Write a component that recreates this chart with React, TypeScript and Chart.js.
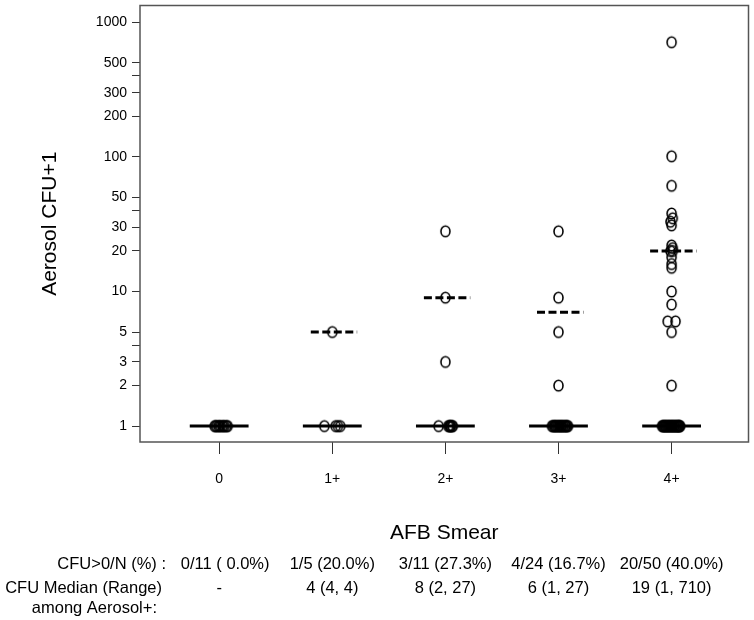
import React, { useEffect, useRef } from 'react';
import { Chart, registerables } from 'chart.js';

Chart.register(...registerables);

// ---- data (values are Aerosol CFU + 1) ----
const categories = ['0', '1+', '2+', '3+', '4+'];

const smear0Values = [1, 1, 1, 1, 1, 1, 1, 1, 1, 1, 1];
const smear0Jitter = [-0.04, -0.03, -0.02, -0.005, 0.005, 0.015, 0.03, 0.04, 0.05, 0.065, 0.075];

const smear1Values = [1, 1, 1, 1, 5];
const smear1Jitter = [-0.07, 0.03, 0.05, 0.07, 0];

const smear2Values = [1, 1, 1, 1, 1, 1, 1, 1, 3, 9, 28];
const smear2Jitter = [-0.06, 0.025, 0.035, 0.04, 0.045, 0.05, 0.06, 0.065, 0, 0, 0];

const smear3Values = [1, 1, 1, 1, 1, 1, 1, 1, 1, 1, 1, 1, 1, 1, 1, 1, 1, 1, 1, 1, 2, 5, 9, 28];
const smear3Jitter = [
  -0.057, -0.05, -0.04, -0.035, -0.026, -0.02, -0.011, -0.004, 0.004, 0.01,
  0.019, 0.026, 0.032, 0.041, 0.047, 0.056, 0.062, 0.07, 0.078, 0.084, 0, 0, 0, 0,
];

const smear4Values = [
  1, 1, 1, 1, 1, 1, 1, 1, 1, 1, 1, 1, 1, 1, 1, 1, 1, 1, 1, 1, 1, 1, 1, 1, 1, 1, 1, 1, 1, 1,
  711, 101, 61, 38, 35, 33, 31, 22, 21, 20, 20, 18, 16, 15, 10, 8, 6, 6, 5, 2,
];
const smear4Jitter = [
  -0.084, -0.078, -0.073, -0.066, -0.061, -0.055, -0.05, -0.043, -0.038, -0.032,
  -0.026, -0.021, -0.015, -0.009, -0.003, 0.003, 0.008, 0.014, 0.02, 0.025,
  0.031, 0.037, 0.042, 0.048, 0.053, 0.058, 0.063, 0.067, 0.071, 0.075,
  0, 0, 0, 0, 0.01, -0.01, 0, 0, 0.01, -0.01, 0.01, 0, 0, 0, 0, 0, -0.035, 0.035, 0, 0,
];

const allMedian = [1, 1, 1, 1, 1];
const positiveMedian = [null, 5, 9, 7, 20];

const yTickValues = [1, 2, 3, 4, 5, 10, 20, 30, 40, 50, 100, 200, 300, 400, 500, 1000];
const yTickLabels = ['1', '2', '3', '', '5', '10', '20', '30', '', '50', '100', '200', '300', '', '500', '1000'];

const positiveRateRow = ['0/11 ( 0.0%)', '1/5 (20.0%)', '3/11 (27.3%)', '4/24 (16.7%)', '20/50 (40.0%)'];
const medianRangeRow = ['-', '4 (4, 4)', '8 (2, 27)', '6 (1, 27)', '19 (1, 710)'];

const FONT = '"Liberation Sans", Arial, Helvetica, sans-serif';

function makeCircle(): HTMLCanvasElement {
  const c = document.createElement('canvas');
  c.width = 13;
  c.height = 15;
  const g = c.getContext('2d')!;
  g.strokeStyle = '#000';
  g.lineWidth = 1.6;
  g.beginPath();
  g.ellipse(6.5, 7.5, 4.5, 5.3, 0, 0, Math.PI * 2);
  g.stroke();
  return c;
}

const framePlugin = {
  id: 'frameAndTable',
  afterDraw(chart: any) {
    const { ctx, chartArea: a } = chart;
    ctx.save();
    ctx.strokeStyle = '#555';
    ctx.lineWidth = 1.5;
    ctx.strokeRect(a.left, a.top, a.right - a.left, a.bottom - a.top);

    ctx.fillStyle = '#000';
    ctx.font = `16.5px ${FONT}`;
    ctx.textBaseline = 'middle';
    ctx.textAlign = 'right';
    ctx.fillText('CFU>0/N (%) :', 166, 564);
    ctx.fillText('CFU Median (Range)', 162, 588);
    ctx.fillText('among Aerosol+:', 157, 608);
    ctx.textAlign = 'center';
    const xs = chart.scales.x;
    positiveRateRow.forEach((t, i) => ctx.fillText(t, xs.getPixelForValue(i) + (i === 0 ? 6 : 0), 564));
    medianRangeRow.forEach((t, i) => ctx.fillText(t, xs.getPixelForValue(i), 588));
    ctx.restore();
  },
};

export default function App() {
  const ref = useRef<HTMLCanvasElement>(null);

  useEffect(() => {
    const circle = makeCircle();
    const groups = [
      [smear0Values, smear0Jitter],
      [smear1Values, smear1Jitter],
      [smear2Values, smear2Jitter],
      [smear3Values, smear3Jitter],
      [smear4Values, smear4Jitter],
    ];
    const datasets: any[] = [];
    groups.forEach(([vals, jit], i) => {
      datasets.push({
        type: 'scatter',
        label: categories[i],
        data: vals.map((v, k) => ({ x: i + jit[k], y: v })),
        pointStyle: circle,
        pointRadius: 4.5,
        borderColor: '#000',
        backgroundColor: 'rgba(0,0,0,0)',
        order: 1,
      });
    });
    allMedian.forEach((m, i) => {
      datasets.push({
        type: 'line',
        label: 'median ' + categories[i],
        data: [
          { x: i - 0.26, y: m },
          { x: i + 0.26, y: m },
        ],
        borderColor: '#000',
        borderWidth: 3,
        pointRadius: 0,
        fill: false,
        order: 2,
      });
    });
    positiveMedian.forEach((m, i) => {
      if (m == null) return;
      datasets.push({
        type: 'line',
        label: 'positive median ' + categories[i],
        data: [
          { x: i - 0.19, y: m },
          { x: i + 0.22, y: m },
        ],
        borderColor: '#000',
        borderWidth: 3,
        borderDash: [8, 3.5],
        pointRadius: 0,
        fill: false,
        order: 2,
      });
    });

    const chart = new Chart(ref.current!, {
      type: 'scatter',
      data: { datasets },
      plugins: [framePlugin],
      options: {
        animation: false,
        responsive: false,
        devicePixelRatio: 1,
        layout: { padding: { left: 0, top: 1, right: 5, bottom: 0 } },
        plugins: { legend: { display: false }, tooltip: { enabled: false } },
        scales: {
          x: {
            type: 'linear',
            min: -0.7,
            max: 4.68,
            afterFit: (s: any) => {
              s.height = 178;
              s.paddingLeft = 0;
              s.paddingRight = 0;
            },
            afterBuildTicks: (s: any) => {
              s.ticks = categories.map((_, i) => ({ value: i }));
            },
            ticks: {
              autoSkip: false,
              maxRotation: 0,
              padding: 17,
              color: '#000',
              font: { family: FONT, size: 14 },
              callback: (_v: any, i: number) => categories[i],
            },
            grid: { drawOnChartArea: false, drawTicks: true, tickLength: 12, color: '#333', lineWidth: 1 },
            border: { display: false },
            title: {
              display: true,
              text: 'AFB Smear',
              color: '#000',
              font: { family: FONT, size: 21 },
              padding: { top: 0, bottom: 74 },
            },
          },
          y: {
            type: 'logarithmic',
            min: 0.762,
            max: 1332,
            afterFit: (s: any) => {
              s.width = 140;
              s.paddingTop = 0;
              s.paddingBottom = 0;
            },
            afterBuildTicks: (s: any) => {
              s.ticks = yTickValues.map((v) => ({ value: v }));
            },
            ticks: {
              autoSkip: false,
              padding: 5,
              color: '#000',
              font: { family: FONT, size: 14 },
              callback: (_v: any, i: number) => yTickLabels[i],
            },
            grid: { drawOnChartArea: false, drawTicks: true, tickLength: 8, color: '#333', lineWidth: 1 },
            border: { display: false },
            title: {
              display: true,
              text: 'Aerosol CFU+1',
              color: '#000',
              font: { family: FONT, size: 21 },
              padding: { top: 38, bottom: 0 },
            },
          },
        },
      },
    } as any);
    return () => chart.destroy();
  }, []);

  return (
    <div style={{ position: 'fixed', left: 0, top: 0, width: 754, height: 620, background: '#fff' }}>
      <canvas ref={ref} width={754} height={620} style={{ display: 'block' }} />
    </div>
  );
}
